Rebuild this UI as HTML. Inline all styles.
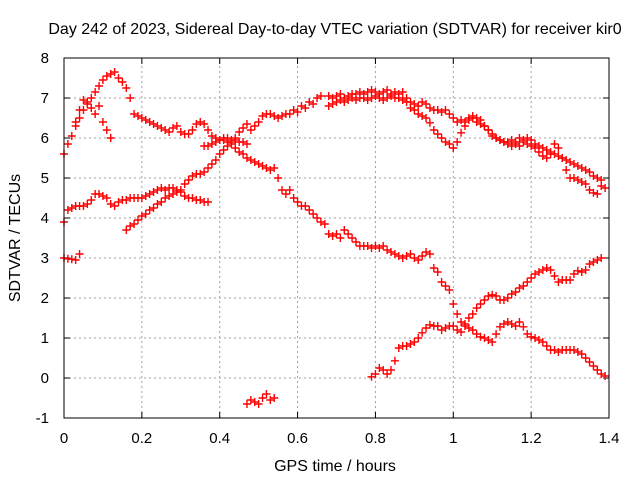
<!DOCTYPE html>
<html><head><meta charset="utf-8"><style>body{margin:0;background:#fff}svg{display:block;font-family:"Liberation Sans",sans-serif}</style></head>
<body>
<svg id="chart" width="640" height="480" viewBox="0 0 640 480">
<rect width="640" height="480" fill="#fff"/>
<text x="335" y="34" font-size="16" text-anchor="middle">Day 242 of 2023, Sidereal Day-to-day VTEC variation (SDTVAR) for receiver kir0</text>
<g id="grid"></g>
<g id="ticks"></g>
<g id="marks"></g>
<rect x="64" y="58" width="545" height="360" fill="none" stroke="#000" stroke-width="1"/>
<text x="335" y="471" font-size="16" text-anchor="middle">GPS time / hours</text>
<text x="0" y="0" font-size="16" text-anchor="middle" transform="translate(20,238) rotate(-90)">SDTVAR / TECUs</text>
</svg>
<script>
const xTicks=[0,0.2,0.4,0.6,0.8,1,1.2,1.4];
const xTickLabels=["0","0.2","0.4","0.6","0.8","1","1.2","1.4"];
const yTicks=[-1,0,1,2,3,4,5,6,7,8];
const yTickLabels=["-1","0","1","2","3","4","5","6","7","8"];
const trackStarts=[0,0.03,0,0.16,0.36,0.79,0.68,0.68,0,0.47];
const track1=[5.6,5.85,6.05,6.3,6.5,6.7,6.85,7.0,7.15,7.3,7.45,7.55,7.6,7.65,7.5,7.4,7.25,7.0,6.6,6.55,6.5,6.45,6.4,6.35,6.3,6.25,6.2,6.15,6.25,6.3,6.15,6.1,6.1,6.2,6.35,6.4,6.35,6.2,6.05,6.0,5.95,6.0,6.0,5.95,5.95,5.9,5.9,5.85];
const track2=[6.4,6.7,6.95,6.9,6.75,6.6,6.8,6.4,6.2,6.0];
const track3=[3.9,4.2,4.25,4.3,4.3,4.3,4.35,4.45,4.6,4.6,4.55,4.5,4.35,4.3,4.4,4.45,4.45,4.5,4.5,4.5,4.5,4.55,4.6,4.65,4.7,4.75,4.7,4.75,4.75,4.7,4.65,4.55,4.5,4.5,4.45,4.45,4.4,4.4];
const track4=[3.7,3.8,3.85,3.95,4.05,4.1,4.2,4.25,4.35,4.4,4.5,4.55,4.6,4.65,4.7,4.85,4.95,5.05,5.1,5.1,5.15,5.25,5.35,5.45,5.6,5.7,5.8,5.9,6.0,6.15,6.25,6.35,6.2,6.3,6.4,6.55,6.6,6.6,6.55,6.5,6.55,6.6,6.6,6.7,6.65,6.8,6.75,6.9,6.85,7.0,7.05];
const track5=[5.8,5.8,5.85,5.9,5.95,5.95,5.9,5.85,5.75,5.65,5.6,5.5,5.45,5.4,5.35,5.3,5.25,5.2,5.25,5.0,4.7,4.6,4.7,4.5,4.4,4.3,4.3,4.2,4.1,4.0,3.9,3.85,3.6,3.55,3.6,3.5,3.7,3.6,3.5,3.4,3.3,3.3,3.3,3.25,3.3,3.25,3.3,3.2,3.15,3.1,3.05,3.0,3.05,3.1,3.0,2.95,3.05,3.15,3.1,2.75,2.65,2.4,2.3,2.2,1.85,1.6,1.4,1.3,1.25,1.2,1.1,1.03,1.0,0.95,0.9,1.1,1.28,1.35,1.4,1.35,1.3,1.4,1.28,1.1,1.03,1.0,0.95,0.9,0.8,0.7,0.7,0.65,0.7,0.7,0.7,0.7,0.65,0.6,0.5,0.4,0.3,0.2,0.1,0.05];
const track6=[0.03,0.1,0.25,0.2,0.1,0.2,0.43,0.75,0.8,0.8,0.85,0.9,1.0,1.13,1.25,1.33,1.3,1.3,1.2,1.25,1.3,1.3,1.2,1.15,1.35,1.5,1.6,1.75,1.85,1.95,2.05,2.08,2.05,1.95,1.95,2.0,2.1,2.15,2.25,2.3,2.4,2.5,2.6,2.65,2.7,2.75,2.7,2.55,2.4,2.45,2.45,2.45,2.6,2.68,2.65,2.7,2.85,2.9,2.95,3.0];
const track7=[7.05,7.0,7.05,7.1,7.0,7.05,7.1,7.1,7.15,7.1,7.15,7.2,7.15,7.1,7.15,7.2,7.1,7.15,7.1,7.15,7.0,6.9,6.85,6.8,6.9,6.85,6.75,6.7,6.7,6.65,6.7,6.6,6.5,6.4,6.45,6.4,6.5,6.55,6.5,6.45,6.3,6.2,6.05,6.0,5.95,5.9,5.9,5.95,5.9,6.0,5.95,6.0,5.95,5.85,5.8,5.75,5.7,5.65,5.6,5.55,5.5,5.45,5.4,5.35,5.3,5.25,5.2,5.15,5.05,5.0,4.95];
const track8=[6.8,6.85,6.9,6.95,6.9,6.95,7.0,6.95,7.0,7.0,6.95,7.0,7.05,7.0,6.95,7.0,7.05,7.0,7.0,6.95,6.9,6.75,6.7,6.6,6.55,6.5,6.38,6.2,6.1,6.0,5.9,5.85,5.75,5.9,6.13,6.3,6.45,6.5,6.4,6.35,6.3,6.2,6.1,6.0,5.95,5.9,5.85,5.8,5.85,5.8,5.9,5.85,5.8,5.75,5.65,5.55,5.5,5.6,5.85,5.75,5.5,5.2,5.0,5.0,4.95,4.9,4.85,4.7,4.63,4.6,4.8,4.75];
const track9=[3.0,2.98,2.97,2.95,3.1];
const track10=[-0.65,-0.55,-0.6,-0.65,-0.5,-0.4,-0.55,-0.5];
const tracks=[track1,track2,track3,track4,track5,track6,track7,track8,track9,track10];
const xStep=0.01;

const NS="http://www.w3.org/2000/svg";
const X0=64,X1=609,Y0=418,Y1=58,xmin=0,xmax=1.4,ymin=-1,ymax=8;
function sx(v){return X0+(v-xmin)/(xmax-xmin)*(X1-X0);}
function sy(v){return Y0-(v-ymin)/(ymax-ymin)*(Y0-Y1);}
function mk(tag,attrs,parent){const e=document.createElementNS(NS,tag);for(const k in attrs)e.setAttribute(k,attrs[k]);parent.appendChild(e);return e;}
const grid=document.getElementById('grid'),ticks=document.getElementById('ticks'),marks=document.getElementById('marks');
xTicks.forEach((t,i)=>{const x=sx(t);
 if(i>0&&i<xTicks.length-1){const g=mk('line',{x1:x,x2:x,y1:Y0,y2:Y1,stroke:'#a0a0a0','stroke-dasharray':'2,3'},grid);
 
 }
 const a=mk('line',{x1:x,x2:x,y1:Y0,y2:Y0-6,stroke:'#000'},ticks);
 
 
 const b=mk('line',{x1:x,x2:x,y1:Y1,y2:Y1+6,stroke:'#000'},ticks);
 
 
 const l=mk('text',{x:x,y:443,'font-size':15,'text-anchor':'middle'},ticks);l.textContent=xTickLabels[i];
 
 });
yTicks.forEach((t,i)=>{const y=sy(t);
 if(i>0&&i<yTicks.length-1){const g=mk('line',{x1:X0,x2:X1,y1:y,y2:y,stroke:'#a0a0a0','stroke-dasharray':'2,3'},grid);
 
 }
 const a=mk('line',{x1:X0,x2:X0+6,y1:y,y2:y,stroke:'#000'},ticks);
 
 
 const b=mk('line',{x1:X1,x2:X1-6,y1:y,y2:y,stroke:'#000'},ticks);
 
 
 const l=mk('text',{x:49,y:y+5,'font-size':15,'text-anchor':'end'},ticks);l.textContent=yTickLabels[i];
 
 });
tracks.forEach((tr,ti)=>{tr.forEach((v,i)=>{const x=sx(trackStarts[ti]+i*xStep),y=sy(v);
 const p=mk('path',{d:`M${x-4},${y}H${x+4}M${x},${y-4}V${y+4}`,stroke:'#f00','stroke-width':1.4,fill:'none'},marks);
 
 });});
</script>
</body></html>
